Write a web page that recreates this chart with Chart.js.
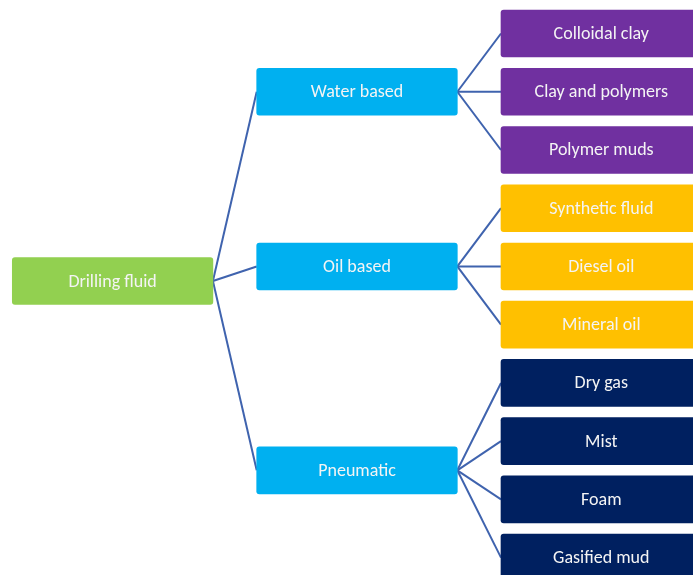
<!DOCTYPE html>
<html>
<head>
<meta charset="utf-8">
<script src="https://cdn.jsdelivr.net/npm/chart.js@4/dist/chart.umd.min.js"></script>
<style>
  html, body { margin: 0; padding: 0; background: #ffffff; }
  #wrap { width: 693px; height: 575px; }
</style>
</head>
<body>
<div id="wrap"><canvas id="c" width="693" height="575"></canvas></div>
<script>
// ---- Data: tree of drilling fluid types ----
const categories = ['Drilling fluid', 'Water based', 'Oil based', 'Pneumatic'];
const waterBased = ['Colloidal clay', 'Clay and polymers', 'Polymer muds'];
const oilBased = ['Synthetic fluid', 'Diesel oil', 'Mineral oil'];
const pneumatic = ['Dry gas', 'Mist', 'Foam', 'Gasified mud'];
const groups = [waterBased, oilBased, pneumatic];

// ---- Styles / layout constants ----
const rootColor = '#92D050';
const levelColor = '#00B0F0';
const groupColors = ['#7030A0', '#FFC000', '#002060'];
const lineColor = '#3F63AE';
const colLeft = [12.3, 256.7, 501];
const boxWidth = 200.6;
const rowPx0 = 33.5, rowPx = 58.24;   // leaf row spacing in pixels

// Build nodes: leaves get consecutive rows, parents sit midway between first & last child
const labels = [], rows = [], xs = [], colors = [], edges = [];
let leafRow = 0;
const levelRows = [];
groups.forEach((g, gi) => {
  const childRows = [];
  g.forEach(name => {
    labels.push(name); rows.push(leafRow); xs.push([colLeft[2], colLeft[2] + boxWidth]);
    colors.push(groupColors[gi]); childRows.push(leafRow); leafRow++;
  });
  const pr = (childRows[0] + childRows[childRows.length - 1]) / 2;
  levelRows.push(pr);
  labels.push(categories[gi + 1]); rows.push(pr); xs.push([colLeft[1], colLeft[1] + boxWidth]);
  colors.push(levelColor);
  childRows.forEach(cr => edges.push([[colLeft[1] + boxWidth, pr], [colLeft[2], cr]]));
});
const rootRow = (levelRows[0] + levelRows[levelRows.length - 1]) / 2;
labels.push(categories[0]); rows.push(rootRow); xs.push([colLeft[0], colLeft[0] + boxWidth]);
colors.push(rootColor);
levelRows.forEach(lr => edges.push([[colLeft[0] + boxWidth, rootRow], [colLeft[1], lr]]));

const lineDatasets = edges.map(e => ({
  type: 'line',
  data: [{ x: e[0][0], y: e[0][1] }, { x: e[1][0], y: e[1][1] }],
  borderColor: lineColor,
  borderWidth: 2,
  pointRadius: 0,
  fill: false,
  tension: 0,
  order: 2
}));

const boxDataset = {
  type: 'bar',
  indexAxis: 'y',
  data: labels.map((l, i) => ({ x: xs[i], y: rows[i] })),
  backgroundColor: colors,
  borderWidth: 0,
  borderRadius: 3,
  borderSkipped: false,
  barThickness: 47,
  order: 1
};

const labelPlugin = {
  id: 'boxLabels',
  afterDatasetsDraw(chart) {
    const idx = chart.data.datasets.indexOf(boxDataset);
    const meta = chart.getDatasetMeta(idx);
    const ctx = chart.ctx;
    ctx.save();
    ctx.fillStyle = '#f4f4f4';
    ctx.font = '18px Carlito, Lato, "Open Sans", sans-serif';
    ctx.textAlign = 'center';
    ctx.textBaseline = 'middle';
    meta.data.forEach((el, i) => {
      const p = el.getProps(['x', 'y', 'base'], true);
      ctx.fillText(labels[i], (p.x + p.base) / 2, p.y + 1);
    });
    ctx.restore();
  }
};

new Chart(document.getElementById('c'), {
  type: 'bar',
  data: { datasets: [boxDataset, ...lineDatasets] },
  options: {
    responsive: false,
    animation: false,
    layout: { padding: 0 },
    plugins: { legend: { display: false }, tooltip: { enabled: false } },
    scales: {
      x: { type: 'linear', min: 0, max: 693, display: false, offset: false },
      y: { type: 'linear', reverse: true, min: -rowPx0 / rowPx, max: (575 - rowPx0) / rowPx, display: false, offset: false }
    }
  },
  plugins: [labelPlugin]
});
</script>
</body>
</html>
